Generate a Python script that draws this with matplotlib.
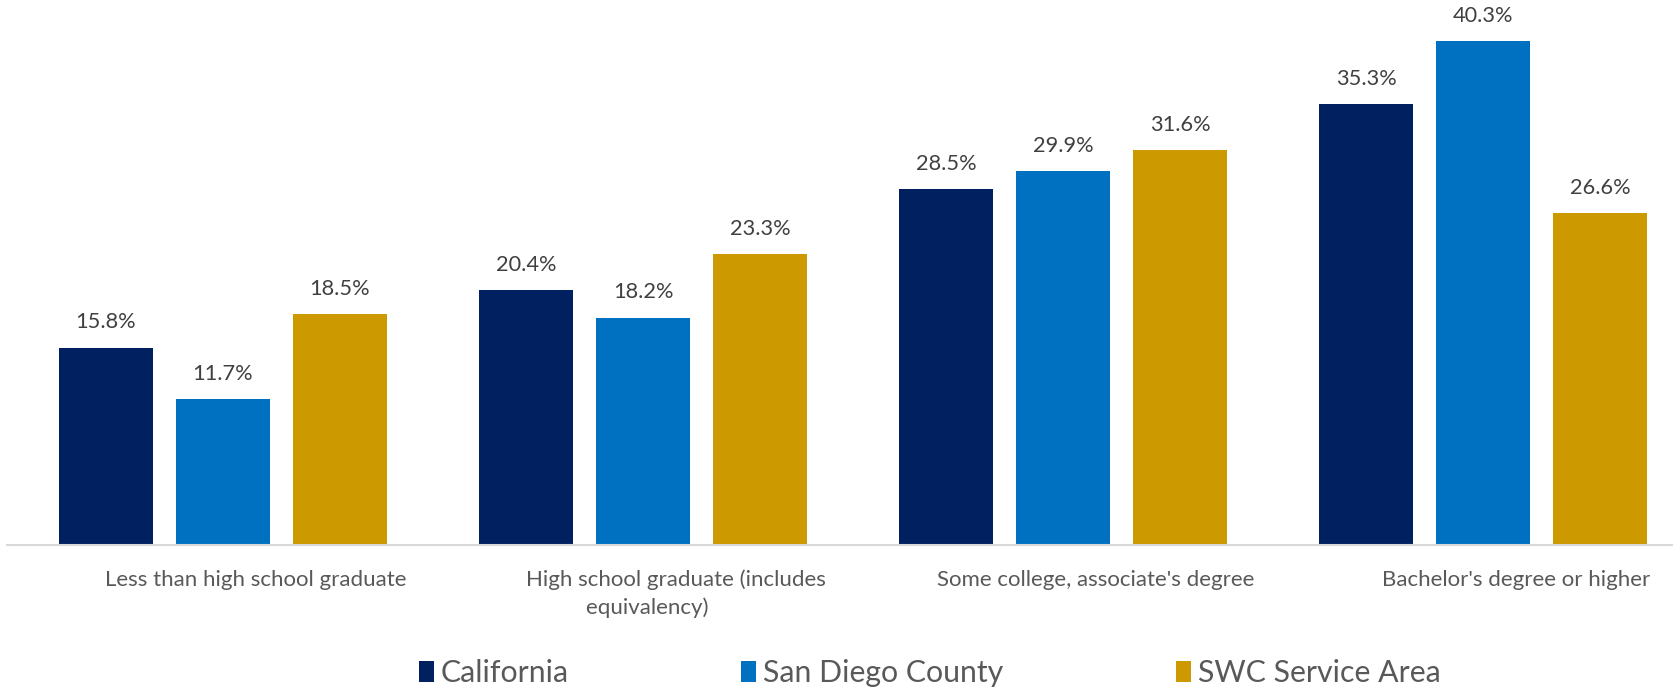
import matplotlib
matplotlib.use("Agg")
import matplotlib.pyplot as plt
import numpy as np
from matplotlib.patches import Patch

categories = ["Less than high school graduate",
              "High school graduate (includes\nequivalency)" + " " * 10,
              "Some college, associate's degree",
              "Bachelor's degree or higher"]
series_names = ["California", "San Diego County", "SWC Service Area"]
california = [15.8, 20.4, 28.5, 35.3]
san_diego = [11.7, 18.2, 29.9, 40.3]
swc = [18.5, 23.3, 31.6, 26.6]
colors = ["#002060", "#0070C0", "#CC9900"]

plt.rcParams['font.family'] = ['Lato', 'DejaVu Sans']

W, H = 1673, 688
fig = plt.figure(figsize=(W / 100, H / 100), dpi=100)
ax = fig.add_axes([7 / W, (H - 545) / H, 1 - 7 / W, 545 / H])

x = np.arange(len(categories))
bw = 0.224
step = 0.2786
for i, (vals, c) in enumerate(zip([california, san_diego, swc], colors)):
    pos = x + (i - 1) * step
    ax.bar(pos, vals, width=bw, color=c, zorder=2)
    for p, v in zip(pos, vals):
        ax.annotate(f"{v:.1f}%", (p, v), xytext=(0, 18), textcoords="offset points",
                    ha="center", va="center", fontsize=15.7, color="#404040")

ax.set_xlim(-0.514, 3.452)
ax.set_ylim(0, 43.6)
for s in ["top", "right", "left"]:
    ax.spines[s].set_visible(False)
ax.spines["bottom"].set_color("#D9D9D9")
ax.spines["bottom"].set_linewidth(1.5)
ax.set_yticks([])
ax.set_xticks([])

for xi, lab in zip(x, categories):
    ax.text(xi + 0.0786, -1.98, lab, ha="center", va="top", fontsize=16,
            color="#595959", linespacing=1.41)

handles = [Patch(facecolor=c, edgecolor="none") for c in colors]
fig.legend(handles, series_names, loc="center", bbox_to_anchor=(0.5556, 0.022),
           ncol=3, frameon=False, fontsize=21.8, labelcolor="#595959",
           handlelength=0.5, handleheight=0.7, handletextpad=0.22,
           columnspacing=5.7)

fig.savefig("out.png", dpi=100)
